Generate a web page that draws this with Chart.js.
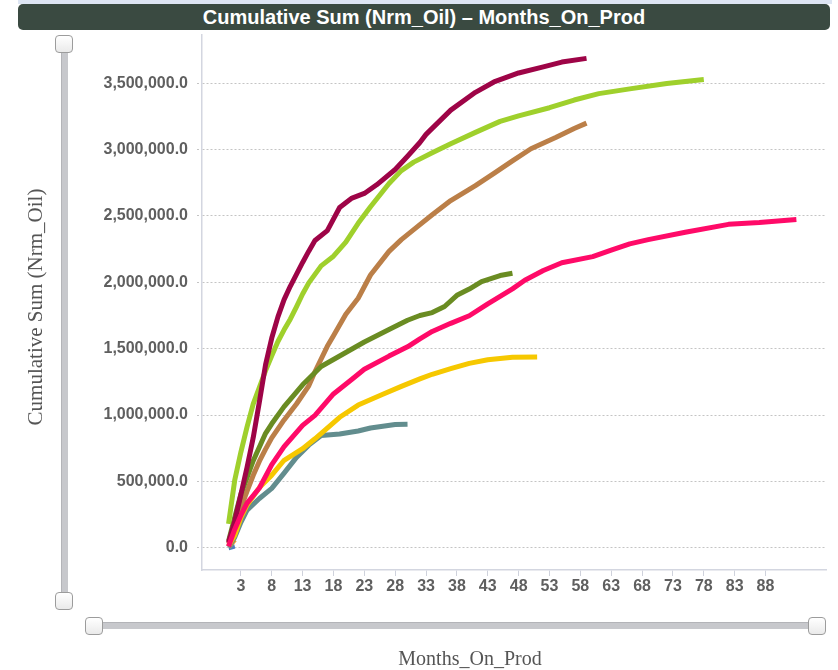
<!DOCTYPE html>
<html>
<head>
<meta charset="utf-8">
<script src="https://cdn.jsdelivr.net/npm/chart.js@4/dist/chart.umd.min.js"></script>
<style>
  html, body { margin: 0; padding: 0; background: #fff; }
  #wrap { position: relative; width: 838px; height: 670px; overflow: hidden; background: #fff; }
  #chart { position: absolute; left: 0; top: 0; }
  .topband { position: absolute; left: 18px; top: 0; width: 814px; height: 4px; background: #dde5f3; }
  .title {
    position: absolute; left: 18px; top: 4px; width: 812px; height: 26px;
    background: #3a4a41; border-radius: 5px; color: #fff;
    font: bold 20px "Liberation Sans", Arial, sans-serif;
    text-align: center; line-height: 26px; white-space: nowrap;
  }
  .ytitle {
    position: absolute; left: 35px; top: 307px; width: 300px; margin-left: -150px; margin-top: -12px;
    height: 24px; line-height: 24px; text-align: center; white-space: nowrap;
    transform: rotate(-90deg); color: #555;
    font: 21px "Liberation Serif", "Times New Roman", serif;
  }
  .xtitle {
    position: absolute; left: 320px; top: 647px; width: 300px; height: 24px; line-height: 24px;
    text-align: center; color: #555; white-space: nowrap;
    font: 20px "Liberation Serif", "Times New Roman", serif;
  }
  .vtrack { position: absolute; left: 61px; top: 46px; width: 6px; height: 552px; background: #c7c8cc; border-left: 1px solid #b3b4b8; }
  .htrack { position: absolute; left: 98px; top: 622px; width: 716px; height: 6px; background: #c7c8cc; border-top: 1px solid #b3b4b8; }
  .handle {
    position: absolute; width: 16px; height: 16px; border: 1.5px solid #9c9c9c; border-radius: 4px;
    background: linear-gradient(#ffffff, #eaeaea);
  }
</style>
</head>
<body>
<div id="wrap">
  <canvas id="chart" width="838" height="670"></canvas>
  <div class="topband"></div>
  <div class="title">Cumulative Sum (Nrm_Oil) – Months_On_Prod</div>
  <div class="ytitle">Cumulative Sum (Nrm_Oil)</div>
  <div class="xtitle">Months_On_Prod</div>
  <div class="vtrack"></div>
  <div class="handle" style="left:55px;top:35px;"></div>
  <div class="handle" style="left:55px;top:592px;"></div>
  <div class="htrack"></div>
  <div class="handle" style="left:85px;top:617px;"></div>
  <div class="handle" style="left:808px;top:617px;"></div>
</div>
<script>
// Axis ticks
const xTickValues = [3, 8, 13, 18, 23, 28, 33, 38, 43, 48, 53, 58, 63, 68, 73, 78, 83, 88];
const yTickValues = [0, 500000, 1000000, 1500000, 2000000, 2500000, 3000000, 3500000];

// Cumulative oil per well, by months on production
const crimsonMonths = [1, 2, 3, 4, 5, 6, 7, 8, 9, 10, 11, 12, 13, 14, 15, 17, 19, 21, 23, 25, 28, 30, 32, 33, 37, 41, 44, 48, 52, 55, 59];
const crimsonValues = [40000, 200000, 400000, 606000, 830000, 1100000, 1380000, 1580000, 1740000, 1870000, 1970000, 2060000, 2150000, 2235000, 2315000, 2390000, 2564000, 2635000, 2670000, 2735000, 2850000, 2950000, 3054000, 3115000, 3298000, 3432000, 3510000, 3578000, 3624000, 3660000, 3688000];

const limeMonths = [1, 2, 3, 4, 5, 6, 7, 8, 9, 10, 11, 12, 13, 14, 16, 18, 20, 22, 24, 27, 29, 31, 34, 37, 41, 45, 48, 53, 57, 61, 66, 72, 78];
const limeValues = [180000, 508000, 721000, 911000, 1084000, 1209000, 1335000, 1446000, 1554000, 1642000, 1722000, 1815000, 1912000, 1996000, 2124000, 2197000, 2303000, 2445000, 2570000, 2745000, 2842000, 2906000, 2977000, 3045000, 3130000, 3213000, 3255000, 3316000, 3374000, 3422000, 3458000, 3499000, 3529000];

const brownMonths = [1, 2, 3, 4, 5, 6, 7, 8, 10, 12, 14, 15, 17, 18, 20, 22, 24, 27, 29, 31, 34, 37, 41, 44, 47, 50, 54, 57, 59];
const brownValues = [30000, 163000, 300000, 426000, 546000, 652000, 743000, 828000, 963000, 1083000, 1220000, 1326000, 1518000, 1597000, 1760000, 1880000, 2055000, 2233000, 2322000, 2397000, 2509000, 2616000, 2729000, 2821000, 2915000, 3007000, 3091000, 3159000, 3200000];

const oliveMonths = [1, 2, 3, 4, 5, 6, 7, 8, 10, 13, 16, 20, 23, 27, 30, 32, 34, 36, 38, 40, 42, 45, 47];
const oliveValues = [50000, 228000, 404000, 530000, 656000, 759000, 862000, 934000, 1063000, 1228000, 1366000, 1471000, 1550000, 1645000, 1714000, 1750000, 1772000, 1818000, 1902000, 1949000, 2005000, 2051000, 2069000];

const pinkMonths = [1, 2, 3, 4, 6, 8, 10, 13, 15, 18, 21, 23, 27, 30, 32, 34, 37, 40, 43, 47, 49, 52, 55, 60, 63, 66, 69, 75, 82, 87, 93];
const pinkValues = [10000, 138000, 245000, 336000, 450000, 626000, 762000, 922000, 997000, 1159000, 1270000, 1345000, 1444000, 1514000, 1574000, 1630000, 1691000, 1748000, 1838000, 1951000, 2016000, 2089000, 2148000, 2194000, 2243000, 2290000, 2322000, 2378000, 2437000, 2451000, 2474000];

const yellowMonths = [1, 2, 3, 4, 6, 8, 10, 13, 15, 19, 22, 26, 29, 32, 34, 37, 40, 43, 47, 51];
const yellowValues = [15000, 94000, 226000, 322000, 453000, 547000, 659000, 746000, 821000, 983000, 1075000, 1157000, 1216000, 1272000, 1307000, 1349000, 1389000, 1416000, 1435000, 1438000];

const tealMonths = [1, 2, 3, 4, 6, 8, 10, 12, 14, 16, 19, 22, 24, 28, 30];
const tealValues = [5000, 78000, 191000, 283000, 371000, 447000, 562000, 681000, 773000, 846000, 857000, 880000, 902000, 928000, 930000];

const orangeMonths = [1, 2];
const orangeValues = [5000, 60000];

const blueMonths = [1, 2];
const blueValues = [0, 12000];

function points(months, values) {
  return months.map((m, i) => ({ x: m, y: values[i] }));
}

function series(months, values, color) {
  return {
    data: points(months, values),
    borderColor: color,
    backgroundColor: color,
    borderWidth: 5,
    pointRadius: 0,
    tension: 0,
    fill: false,
    borderJoinStyle: 'round'
  };
}

const tickFont = { family: '"Liberation Sans", Arial, sans-serif', size: 16, weight: 'bold' };

new Chart(document.getElementById('chart'), {
  type: 'line',
  data: {
    datasets: [
      series(pinkMonths, pinkValues, '#ff0a68'),
      series(crimsonMonths, crimsonValues, '#9e0447'),
      series(limeMonths, limeValues, '#9fd02c'),
      series(oliveMonths, oliveValues, '#6a8c22'),
      series(brownMonths, brownValues, '#bb7f48'),
      series(yellowMonths, yellowValues, '#f6c800'),
      series(tealMonths, tealValues, '#628d8e'),
      series(orangeMonths, orangeValues, '#f59d1a'),
      series(blueMonths, blueValues, '#4a7fbf')
    ]
  },
  options: {
    responsive: false,
    devicePixelRatio: 1,
    animation: false,
    layout: { padding: { left: 0, top: 35, right: 12, bottom: 0 } },
    plugins: { legend: { display: false }, tooltip: { enabled: false }, title: { display: false } },
    scales: {
      x: {
        type: 'linear',
        min: -3.3,
        max: 97.8,
        afterFit: (s) => { s.height = 100; },
        afterBuildTicks: (s) => { s.ticks = xTickValues.map(v => ({ value: v })); },
        ticks: {
          autoSkip: false, maxRotation: 0, padding: 1,
          color: '#5f5f5f', font: tickFont,
          callback: (v) => String(v)
        },
        grid: { drawOnChartArea: false, drawTicks: true, tickLength: 6, color: '#cfd2dc', tickColor: '#cfd2dc' },
        border: { display: true, color: '#d3d6e0', width: 1.5 }
      },
      y: {
        min: -168000,
        max: 3864000,
        afterFit: (s) => { s.width = 202; },
        afterBuildTicks: (s) => { s.ticks = yTickValues.map(v => ({ value: v })); },
        ticks: {
          padding: 9, color: '#5f5f5f', font: tickFont,
          callback: (v) => v.toLocaleString('en-US', { minimumFractionDigits: 1, maximumFractionDigits: 1 })
        },
        grid: {
          drawOnChartArea: true, drawTicks: true, tickLength: 5,
          color: '#c4c4c4', tickColor: '#c4c4c4', tickBorderDash: [2, 2], lineWidth: 1
        },
        border: { display: true, color: '#d3d6e0', width: 1.5, dash: [2, 2] }
      }
    }
  }
});
</script>
</body>
</html>
